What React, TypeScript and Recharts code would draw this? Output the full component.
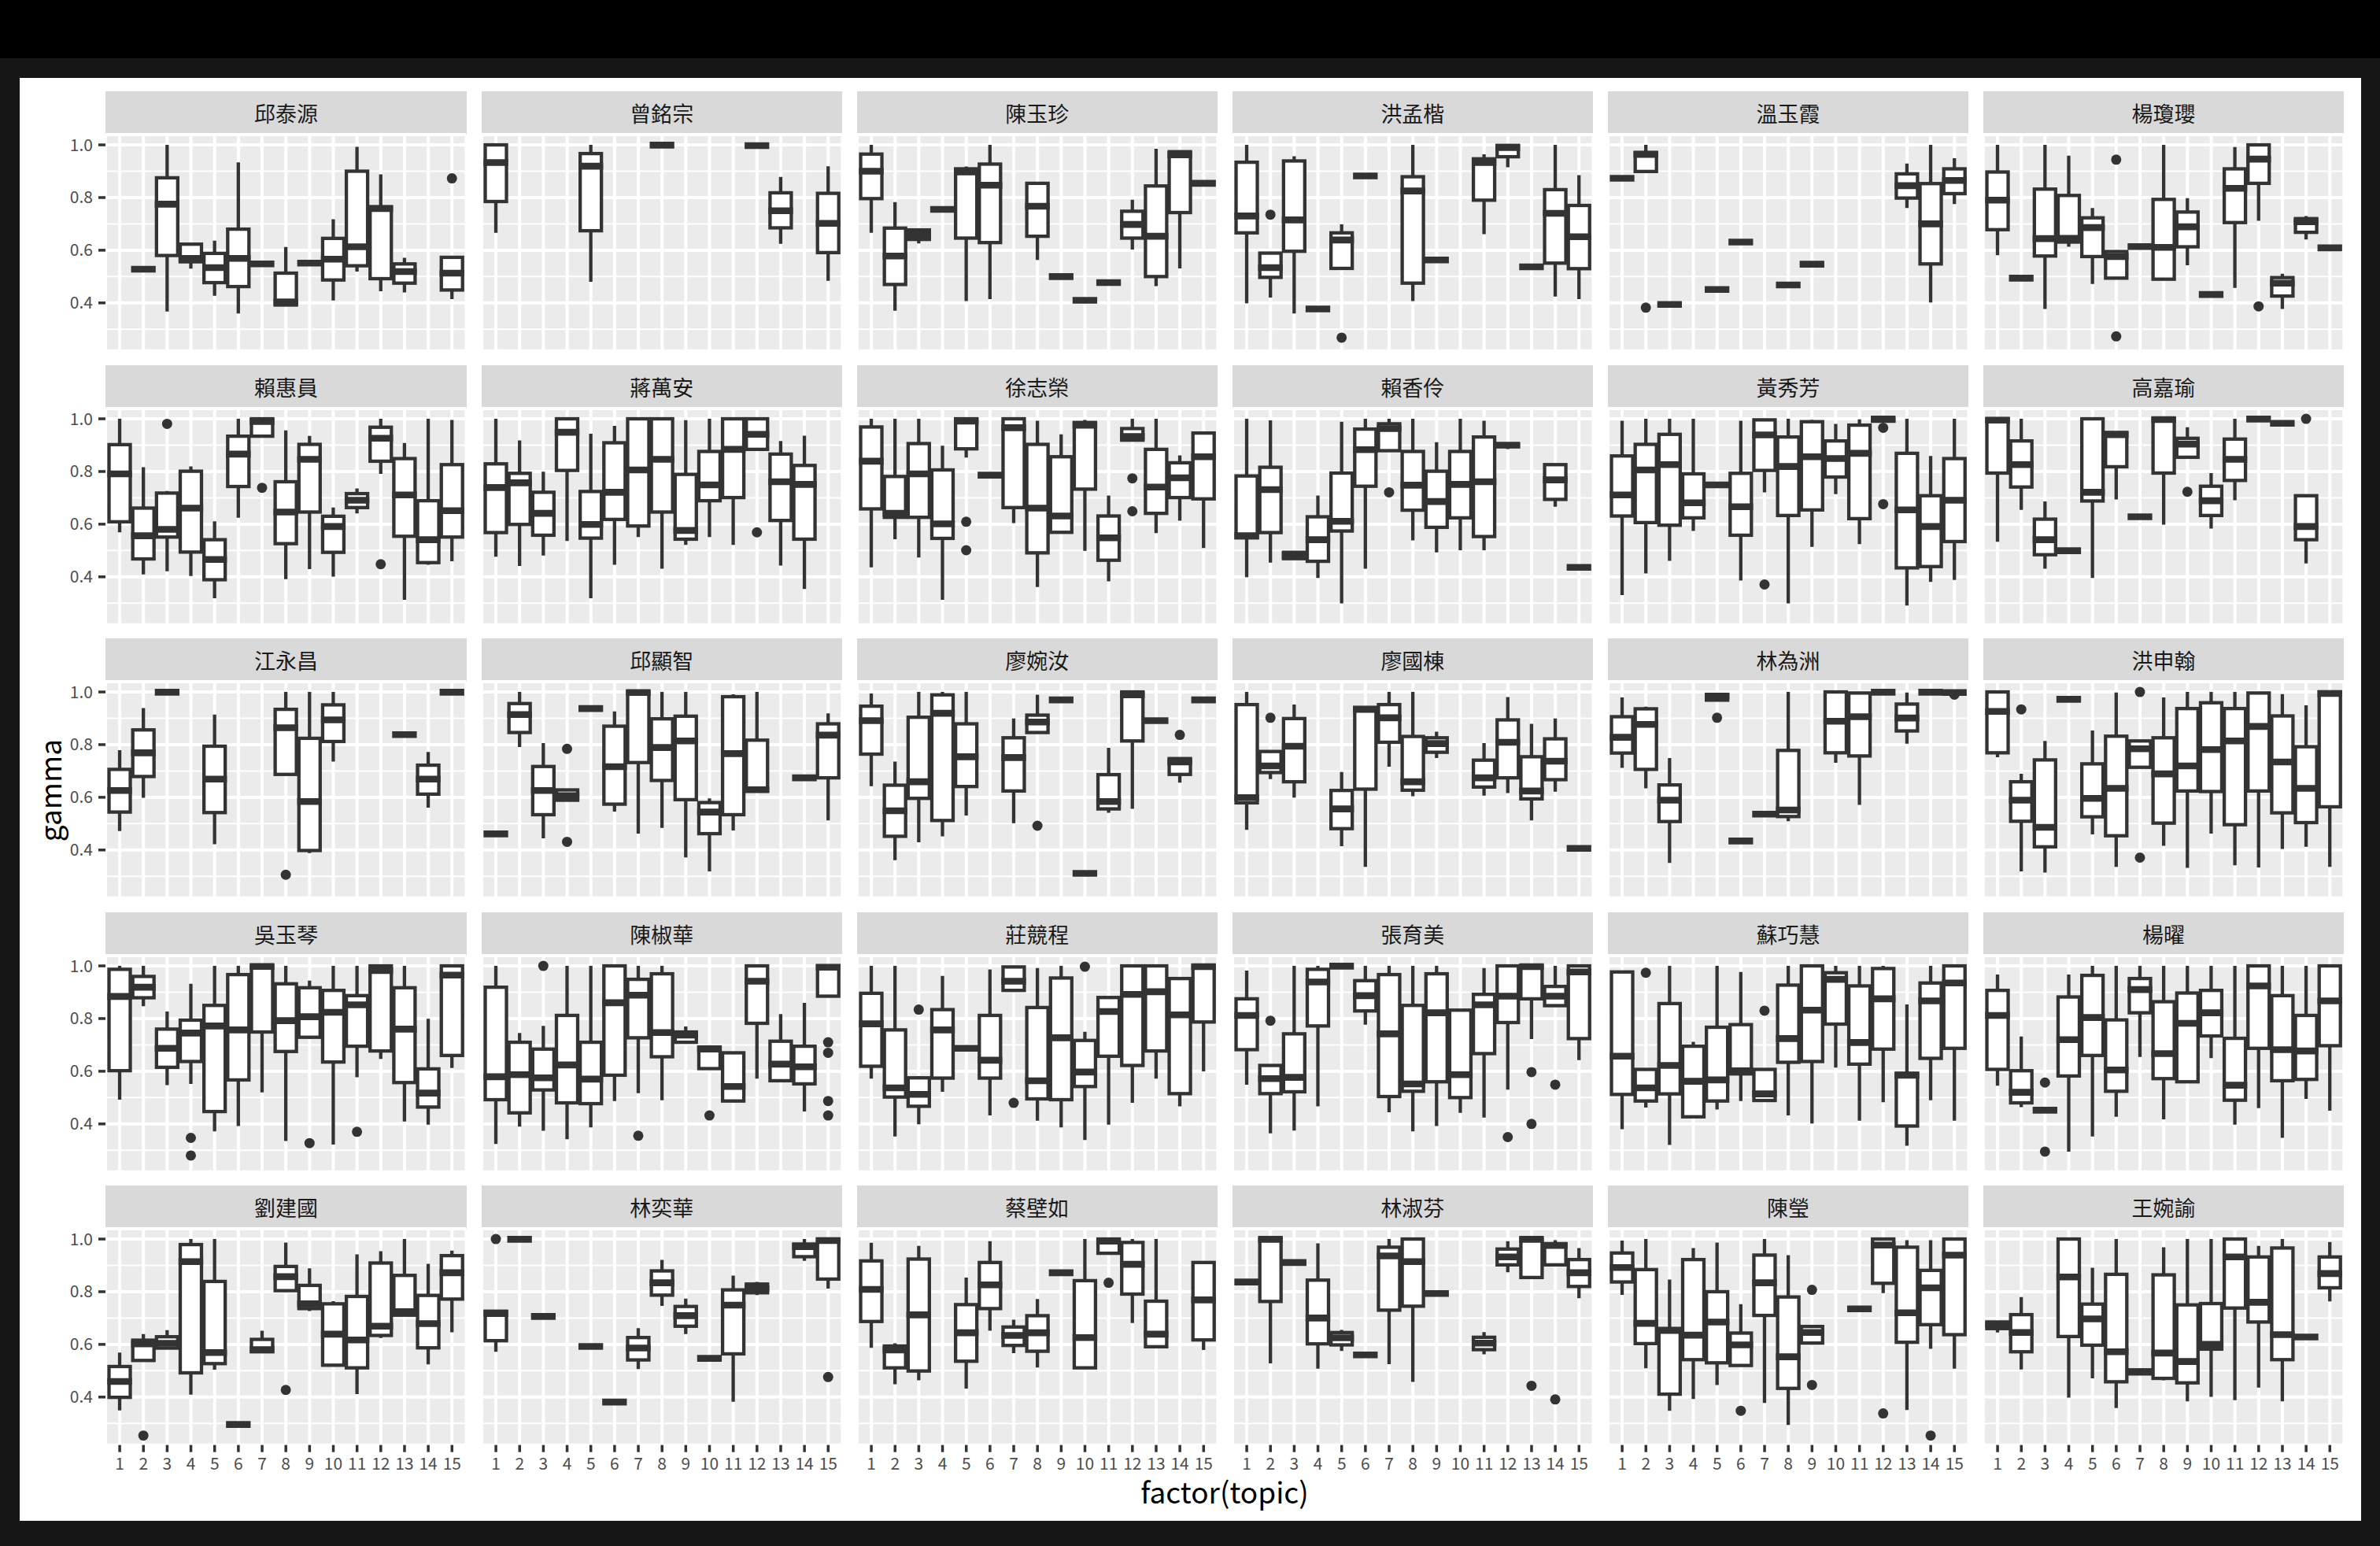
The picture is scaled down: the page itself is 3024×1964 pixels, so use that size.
import React from 'react';
import { ComposedChart, Bar, XAxis, YAxis, CartesianGrid } from 'recharts';

type Box = number[]; // [topic, lower whisker, Q1, median, Q3, upper whisker, ...outliers]

const topics = ['1', '2', '3', '4', '5', '6', '7', '8', '9', '10', '11', '12', '13', '14', '15'];
const yTicks = [0.4, 0.6, 0.8, 1.0];
const yMinorTicks = [0.3, 0.5, 0.7, 0.9];
const yDomain: [number, number] = [0.218, 1.039];

const facetNames = [
  '邱泰源', '曾銘宗', '陳玉珍', '洪孟楷', '溫玉霞', '楊瓊瓔',
  '賴惠員', '蔣萬安', '徐志榮', '賴香伶', '黃秀芳', '高嘉瑜',
  '江永昌', '邱顯智', '廖婉汝', '廖國棟', '林為洲', '洪申翰',
  '吳玉琴', '陳椒華', '莊競程', '張育美', '蘇巧慧', '楊曜',
  '劉建國', '林奕華', '蔡壁如', '林淑芬', '陳瑩', '王婉諭',
];

const f01: Box[] = [
  [2, .528, .528, .528, .528, .528], [3, .367, .58, .775, .875, 1.0], [4, .53, .556, .569, .623, .623],
  [5, .427, .477, .534, .588, .636], [6, .36, .462, .569, .68, .934], [7, .548, .548, .548, .548, .548],
  [8, .389, .392, .404, .513, .612], [9, .551, .551, .551, .551, .551], [10, .409, .487, .566, .645, .718],
  [11, .519, .541, .613, .9, .993], [12, .444, .492, .758, .765, .888], [13, .44, .475, .519, .548, .571],
  [15, .414, .449, .513, .573, .573, .873],
];
const f02: Box[] = [
  [1, .666, .785, .933, 1.0, 1.0], [5, .48, .674, .919, .967, 1.0], [8, .999, .999, .999, .999, .999],
  [12, .997, .997, .997, .997, .997], [13, .624, .685, .75, .818, .878], [15, .484, .591, .702, .816, .919],
];
const f03: Box[] = [
  [1, .666, .796, .9, .965, 1.0], [2, .37, .47, .578, .684, .783], [3, .626, .641, .66, .677, .677],
  [4, .755, .755, .755, .755, .755], [5, .407, .646, .897, .909, .918], [6, .414, .629, .847, .927, 1.0],
  [8, .563, .653, .767, .854, .855], [9, .5, .5, .5, .5, .5], [10, .41, .41, .41, .41, .41],
  [11, .477, .477, .477, .477, .477], [12, .603, .646, .698, .748, .792], [13, .464, .5, .653, .844, .985],
  [14, .531, .743, .962, .974, .976], [15, .854, .854, .854, .854, .854],
];
const f04: Box[] = [
  [1, .399, .666, .73, .934, 1.0], [2, .42, .497, .534, .589, .589, .735], [3, .36, .596, .715, .939, .957],
  [4, .377, .377, .377, .377, .377], [5, .531, .531, .639, .666, .698, .268], [6, .882, .882, .882, .882, .882],
  [8, .407, .475, .825, .879, 1.0], [9, .563, .563, .563, .563, .563], [11, .661, .79, .933, .947, .964],
  [12, .915, .955, .99, .998, .998], [13, .537, .537, .537, .537, .537], [14, .424, .551, .74, .83, 1.0],
  [15, .414, .53, .651, .77, .885],
];
const f05: Box[] = [
  [1, .873, .873, .873, .873, .873], [2, .899, .899, .964, .971, 1.0, .382], [3, .394, .394, .394, .394, .394],
  [5, .451, .451, .451, .451, .451], [6, .631, .631, .631, .631, .631], [8, .468, .468, .468, .468, .468],
  [9, .547, .547, .547, .547, .547], [13, .76, .798, .845, .89, .929], [14, .402, .548, .7, .853, 1.0],
  [15, .775, .815, .865, .909, .949],
];
const f06: Box[] = [
  [1, .581, .678, .79, .897, 1.0], [2, .494, .494, .494, .494, .494], [3, .377, .578, .644, .832, 1.0],
  [4, .613, .631, .645, .808, .959], [5, .472, .576, .686, .723, .76], [6, .494, .494, .576, .595, .595, .944, .273],
  [7, .614, .614, .614, .614, .614], [8, .49, .49, .611, .793, 1.0], [9, .543, .613, .689, .745, .798],
  [10, .432, .432, .432, .432, .432], [11, .457, .705, .835, .909, .992], [12, .712, .854, .946, 1.0, 1.0, .387],
  [13, .377, .426, .475, .496, .511], [14, .641, .668, .708, .72, .73], [15, .609, .609, .609, .609, .609],
];
const f07: Box[] = [
  [1, .569, .609, .791, .902, 1.0], [2, .409, .468, .556, .661, .816], [3, .421, .551, .58, .718, .726, .981],
  [4, .403, .494, .661, .801, .819], [5, .319, .389, .466, .541, .611], [6, .624, .743, .866, .934, 1.0],
  [7, .934, .934, .99, 1.0, 1.0, .738], [8, .391, .526, .646, .761, .956], [9, .429, .646, .846, .903, .935],
  [10, .401, .493, .591, .63, .663], [11, .641, .663, .691, .716, .736], [12, .791, .839, .926, .968, 1.0, .448],
  [13, .313, .554, .711, .849, .908], [14, .446, .454, .541, .689, 1.0], [15, .459, .551, .651, .826, .996],
];
const f08: Box[] = [
  [1, .476, .568, .739, .829, 1.0], [2, .441, .599, .757, .793, .918], [3, .481, .558, .641, .721, .799],
  [4, .536, .804, .949, 1.0, 1.0], [5, .319, .547, .599, .724, .943], [6, .446, .618, .721, .909, .973],
  [7, .551, .593, .806, 1.0, 1.0], [8, .431, .646, .846, 1.0, 1.0], [9, .521, .543, .576, .789, .995],
  [10, .551, .689, .749, .876, 1.0], [11, .521, .701, .884, 1.0, 1.0], [12, .879, .884, .941, 1.0, 1.0, .569],
  [13, .443, .614, .761, .866, .916], [14, .354, .543, .751, .823, .936],
];
const f09: Box[] = [
  [1, .436, .658, .839, .969, 1.0], [2, .543, .626, .641, .781, 1.0], [3, .473, .626, .791, .906, 1.0],
  [4, .313, .546, .601, .806, .898], [5, .853, .886, .991, 1.0, 1.0, .609, .501], [6, .786, .786, .786, .786, .786],
  [7, .604, .663, .966, 1.0, 1.0], [8, .361, .491, .661, .903, .993], [9, .568, .569, .631, .856, .941],
  [10, .499, .733, .976, .986, .996], [11, .383, .463, .548, .631, .709], [12, .919, .919, .933, .963, 1.0, .774, .649],
  [13, .566, .641, .741, .884, 1.0], [14, .613, .701, .776, .833, .861], [15, .509, .696, .856, .946, .951],
];
const f10: Box[] = [
  [1, .399, .548, .556, .783, 1.0], [2, .454, .568, .731, .816, .994], [3, .469, .469, .481, .493, .493],
  [4, .396, .459, .541, .628, .709], [5, .299, .574, .611, .794, .989], [6, .431, .744, .883, .961, 1.0],
  [7, .879, .879, .963, .981, 1.0, .721], [8, .538, .653, .748, .876, 1.0], [9, .493, .588, .686, .801, .911],
  [10, .501, .624, .751, .876, 1.0], [11, .501, .553, .761, .931, .993], [12, .885, .895, .9, .903, .903],
  [14, .666, .694, .768, .826, .828], [15, .436, .436, .436, .436, .436],
];
const f11: Box[] = [
  [1, .331, .631, .711, .859, .993], [2, .413, .606, .806, .903, 1.0], [3, .461, .596, .826, .941, 1.0],
  [4, .574, .624, .681, .791, 1.0], [5, .749, .749, .749, .749, .749], [6, .386, .558, .666, .793, .993],
  [7, .721, .804, .939, .996, 1.0, .371], [8, .299, .633, .819, .931, 1.0], [9, .514, .654, .856, .989, .996],
  [10, .714, .779, .849, .916, .981], [11, .524, .621, .869, .976, .998], [12, .991, .991, .999, 1.0, 1.0, .966, .676],
  [13, .291, .434, .654, .869, 1.0], [14, .381, .439, .591, .708, .859], [15, .388, .534, .691, .849, 1.0],
];
const f12: Box[] = [
  [1, .533, .794, .995, 1.0, 1.0], [2, .654, .741, .826, .916, 1.0], [3, .431, .484, .541, .619, .686],
  [4, .499, .499, .499, .499, .499], [5, .396, .688, .721, 1.0, 1.0], [6, .694, .818, .94, .948, .948],
  [7, .628, .628, .628, .628, .628], [8, .598, .794, .997, 1.0, 1.0], [9, .854, .854, .904, .926, .968, .723],
  [10, .583, .633, .689, .744, .794], [11, .691, .766, .846, .923, 1.0], [12, .999, .999, .999, .999, .999],
  [13, .983, .983, .983, .983, .983], [14, .451, .541, .591, .708, .708, 1.0],
];
const f13: Box[] = [
  [1, .472, .544, .626, .706, .779], [2, .598, .679, .769, .856, .939], [3, .999, .999, .999, .999, .999],
  [5, .422, .542, .669, .794, .914], [8, .687, .687, .864, .934, 1.0, .306], [9, .388, .398, .584, .824, 1.0],
  [10, .736, .812, .894, .951, 1.0], [13, .838, .838, .838, .838, .838], [14, .561, .612, .669, .722, .772],
  [15, .999, .999, .999, .999, .999],
];
const f14: Box[] = [
  [1, .461, .461, .461, .461, .461], [2, .791, .846, .914, .956, 1.0], [3, .444, .534, .626, .717, .806],
  [4, .589, .589, .606, .628, .628, .784, .431], [5, .937, .937, .937, .937, .937], [6, .546, .574, .716, .87, .926],
  [7, .462, .732, .998, 1.0, 1.0], [8, .484, .664, .789, .898, 1.0], [9, .372, .591, .814, .908, 1.0],
  [10, .319, .462, .544, .58, .596], [11, .474, .534, .766, .982, .991], [12, .622, .624, .629, .817, 1.0],
  [14, .674, .674, .674, .674, .674], [15, .512, .674, .836, .879, .919],
];
const f15: Box[] = [
  [1, .642, .764, .891, .946, .994], [2, .361, .452, .549, .646, .736], [3, .429, .596, .659, .904, 1.0],
  [4, .452, .512, .919, .989, 1.0], [5, .531, .641, .754, .879, 1.0], [7, .502, .624, .751, .826, .899],
  [8, .846, .846, .886, .912, .99, .492], [9, .97, .97, .97, .97, .97], [10, .311, .311, .311, .311, .311],
  [11, .541, .556, .584, .686, .788], [12, .556, .814, .989, 1.0, 1.0], [13, .891, .891, .891, .891, .891],
  [14, .656, .687, .734, .747, .747, .837], [15, .97, .97, .97, .97, .97],
];
const f16: Box[] = [
  [1, .476, .579, .599, .952, 1.0], [2, .669, .694, .719, .774, .774, .902], [3, .599, .659, .794, .899, .952],
  [5, .414, .481, .556, .626, .696], [6, .336, .631, .934, .941, .946], [7, .716, .809, .902, .952, 1.0],
  [8, .604, .627, .659, .831, 1.0], [9, .749, .771, .804, .826, .849], [11, .606, .639, .674, .741, .806],
  [12, .616, .674, .809, .894, .981], [13, .512, .594, .624, .754, .879], [14, .621, .667, .737, .822, .899],
  [15, .406, .406, .406, .406, .406],
];
const f17: Box[] = [
  [1, .712, .768, .828, .906, .979], [2, .634, .706, .877, .936, .944], [3, .351, .508, .589, .647, .749],
  [5, .969, .969, .984, .99, .99, .902], [6, .434, .434, .434, .434, .434], [7, .536, .536, .536, .536, .536],
  [8, .509, .527, .552, .778, 1.0], [10, .731, .769, .889, 1.0, 1.0], [11, .571, .757, .906, .996, .998],
  [12, .999, .999, .999, .999, .999], [13, .804, .852, .901, .954, .998], [14, .999, .999, .999, .999, .999],
  [15, .998, .998, .998, .998, .998, .99],
];
const f18: Box[] = [
  [1, .752, .769, .926, 1.0, 1.0], [2, .319, .509, .589, .659, .689, .934], [3, .314, .412, .486, .742, .814],
  [4, .972, .972, .972, .972, .972], [5, .459, .526, .596, .727, .854], [6, .336, .454, .634, .832, .998],
  [7, .714, .714, .784, .814, .814, 1.0, .371], [8, .416, .502, .689, .826, .979], [9, .332, .624, .719, .937, 1.0],
  [10, .462, .622, .781, .959, 1.0], [11, .342, .496, .814, .937, 1.0], [12, .334, .624, .869, .996, 1.0],
  [13, .404, .541, .734, .909, .992], [14, .412, .504, .634, .792, .949], [15, .336, .564, .994, 1.0, 1.0],
];
const f19: Box[] = [
  [1, .492, .602, .884, .987, 1.0], [2, .847, .879, .919, .96, 1.0], [3, .547, .615, .687, .76, .827],
  [4, .552, .637, .745, .794, .932, .347, .28], [5, .372, .447, .772, .85, 1.0], [6, .392, .567, .757, .967, 1.0],
  [7, .52, .749, .998, 1.0, 1.0], [8, .335, .675, .792, .932, 1.0], [9, .724, .729, .807, .917, .944, .327],
  [10, .322, .635, .824, .907, 1.0], [11, .577, .695, .852, .887, 1.0, .37], [12, .647, .677, .982, 1.0, 1.0],
  [13, .409, .557, .76, .917, 1.0], [14, .397, .464, .517, .609, .799], [15, .612, .66, .965, 1.0, 1.0],
];
const f20: Box[] = [
  [1, .324, .492, .579, .919, 1.0], [2, .39, .442, .587, .71, .745], [3, .374, .529, .575, .684, .772, 1.0],
  [4, .342, .48, .624, .812, 1.0], [5, .387, .477, .57, .71, 1.0], [6, .487, .585, .86, 1.0, 1.0],
  [7, .517, .727, .889, .949, 1.0, .355], [8, .49, .655, .747, .97, 1.0], [9, .71, .71, .737, .749, .77],
  [10, .61, .61, .684, .692, .692, .432], [11, .482, .487, .542, .67, .67], [12, .572, .782, .942, 1.0, 1.0],
  [13, .564, .564, .627, .714, .817], [14, .447, .552, .617, .695, .86], [15, .885, .885, .995, 1.0, 1.0, .71, .67, .487, .432],
];
const f21: Box[] = [
  [1, .572, .619, .78, .896, 1.0], [2, .352, .502, .537, .757, 1.0], [3, .399, .467, .512, .575, .582, .834],
  [4, .522, .574, .757, .834, .962], [5, .687, .687, .687, .687, .687], [6, .432, .574, .642, .812, .987],
  [7, .907, .907, .942, .996, .996, .48], [8, .412, .495, .564, .842, .992], [9, .387, .492, .727, .954, 1.0],
  [10, .339, .542, .597, .717, .75, .997], [11, .397, .657, .827, .88, .88], [12, .48, .622, .892, 1.0, 1.0],
  [13, .572, .677, .902, 1.0, 1.0], [14, .467, .515, .814, .952, .957], [15, .6, .787, .997, 1.0, 1.0],
];
const f22: Box[] = [
  [1, .549, .682, .812, .875, .982], [2, .364, .515, .572, .622, .622, .792], [3, .375, .522, .577, .742, 1.0],
  [4, .467, .772, .939, .987, 1.0], [5, .999, .999, .999, .999, .999], [6, .777, .829, .887, .944, 1.0],
  [7, .444, .504, .742, .967, 1.0], [8, .372, .524, .552, .85, 1.0], [9, .392, .56, .822, .97, 1.0],
  [10, .442, .5, .587, .832, .832], [11, .424, .667, .852, .892, .992], [12, .53, .785, .885, 1.0, 1.0, .35],
  [13, .722, .875, .997, 1.0, 1.0, .597, .4], [14, .849, .849, .885, .922, 1.0, .549], [15, .642, .724, .977, 1.0, 1.0],
];
const f23: Box[] = [
  [1, .38, .512, .657, .977, .982], [2, .462, .487, .537, .607, .607, .974], [3, .32, .514, .622, .857, 1.0],
  [4, .427, .427, .562, .695, .712], [5, .455, .487, .567, .767, 1.0], [6, .487, .59, .602, .777, .977],
  [7, .489, .489, .514, .607, .607, .83], [8, .432, .634, .724, .927, 1.0], [9, .402, .637, .832, 1.0, 1.0],
  [10, .614, .779, .949, .974, 1.0], [11, .412, .627, .709, .924, 1.0], [12, .482, .684, .875, .99, 1.0],
  [13, .317, .392, .585, .592, .854], [14, .49, .649, .867, .935, 1.0], [15, .412, .687, .935, 1.0, 1.0],
];
const f24: Box[] = [
  [1, .545, .607, .812, .907, .967], [2, .464, .48, .52, .602, .732], [3, .452, .452, .452, .452, .452, .557, .295],
  [4, .295, .582, .72, .882, .967], [5, .352, .66, .804, .964, 1.0], [6, .427, .524, .605, .795, 1.0],
  [7, .654, .822, .91, .952, 1.0], [8, .417, .572, .667, .864, 1.0], [9, .557, .56, .782, .897, 1.0],
  [10, .65, .734, .822, .907, 1.0], [11, .397, .49, .547, .725, 1.0], [12, .46, .687, .924, 1.0, 1.0],
  [13, .347, .564, .682, .887, 1.0], [14, .495, .569, .677, .812, 1.0], [15, .45, .697, .867, 1.0, 1.0],
];
const f25: Box[] = [
  [1, .349, .399, .459, .516, .569], [2, .539, .539, .602, .616, .639, .254], [3, .584, .586, .604, .629, .654],
  [4, .409, .492, .914, .979, 1.0], [5, .504, .527, .569, .839, 1.0], [6, .296, .296, .296, .296, .296],
  [7, .572, .572, .58, .619, .652], [8, .804, .804, .857, .896, .987, .427], [9, .727, .736, .754, .824, .889],
  [10, .519, .521, .639, .754, .764], [11, .411, .511, .617, .782, .942], [12, .624, .634, .669, .909, .954],
  [13, .711, .711, .724, .862, 1.0], [14, .524, .587, .679, .786, .906], [15, .646, .772, .872, .937, .956],
];
const f26: Box[] = [
  [1, .572, .614, .717, .726, .726, 1.0], [2, .999, .999, .999, .999, .999], [3, .706, .706, .706, .706, .706],
  [5, .592, .592, .592, .592, .592], [6, .381, .381, .381, .381, .381], [7, .506, .541, .586, .626, .662],
  [8, .746, .787, .834, .879, .921], [9, .639, .669, .709, .744, .774], [10, .547, .547, .547, .547, .547],
  [11, .382, .564, .749, .807, .861], [12, .787, .796, .812, .829, .837], [14, .917, .933, .971, .981, 1.0],
  [15, .812, .848, .994, 1.0, 1.0, .476],
];
const f27: Box[] = [
  [1, .587, .687, .809, .917, .986], [2, .449, .511, .579, .594, .604], [3, .464, .499, .712, .924, .974],
  [5, .432, .536, .644, .751, .854], [6, .652, .736, .826, .911, .992], [7, .567, .596, .634, .666, .694],
  [8, .512, .574, .644, .709, .772], [9, .872, .872, .872, .872, .872], [10, .506, .511, .626, .842, 1.0],
  [11, .946, .946, .992, 1.0, 1.0, .834], [12, .681, .791, .904, .987, 1.0], [13, .591, .591, .639, .764, 1.0],
  [15, .579, .617, .769, .911, .912],
];
const f28: Box[] = [
  [1, .837, .837, .837, .837, .837], [2, .528, .763, .999, 1.0, 1.0], [3, .911, .911, .911, .911, .911],
  [4, .508, .602, .7, .844, .984], [5, .575, .598, .625, .645, .655], [6, .56, .56, .56, .56, .56],
  [7, .525, .73, .936, .969, 1.0], [8, .458, .745, .914, 1.0, 1.0], [9, .793, .793, .793, .793, .793],
  [11, .562, .58, .605, .627, .647], [12, .874, .902, .932, .962, .992], [13, .854, .854, .999, 1.0, 1.0, .443],
  [14, .902, .902, .976, .981, .996, .391], [15, .775, .82, .872, .922, .966],
];
const f29: Box[] = [
  [1, .788, .837, .892, .947, .994], [2, .509, .603, .68, .884, 1.0], [3, .348, .411, .653, .66, .846],
  [4, .393, .542, .635, .922, .966], [5, .446, .53, .685, .8, .987], [6, .52, .52, .598, .643, .753, .348],
  [7, .378, .71, .834, .939, 1.0], [8, .294, .433, .553, .78, .939], [9, .605, .605, .645, .668, .668, .807, .446],
  [11, .735, .735, .735, .735, .735], [12, .795, .832, .977, 1.0, 1.0, .338], [13, .351, .608, .72, .969, .996],
  [14, .583, .675, .815, .881, .996, .254], [15, .508, .637, .939, 1.0, 1.0],
];
const f30: Box[] = [
  [1, .645, .66, .675, .685, .685], [2, .505, .572, .645, .713, .78], [4, .398, .63, .856, 1.0, 1.0],
  [5, .471, .597, .697, .753, .891], [6, .358, .458, .572, .866, 1.0], [7, .488, .488, .496, .503, .503],
  [8, .464, .471, .567, .864, .969], [9, .384, .454, .535, .75, 1.0], [10, .401, .582, .6, .755, 1.0],
  [11, .388, .738, .932, 1.0, 1.0], [12, .436, .685, .76, .932, .974], [13, .384, .542, .637, .966, 1.0],
  [14, .628, .628, .628, .628, .628], [15, .763, .815, .869, .932, .989],
];

const facetBoxes: Box[][] = [
  f01, f02, f03, f04, f05, f06, f07, f08, f09, f10, f11, f12, f13, f14, f15,
  f16, f17, f18, f19, f20, f21, f22, f23, f24, f25, f26, f27, f28, f29, f30,
];

// ---------- layout / style ----------
const FONT = '"Noto Sans CJK TC", "Noto Sans", sans-serif';
const DARK = '#333333';
const PANEL_W = 458.4;
const PANEL_H = 274.7;
const STRIP_H = 55;
const COL0 = 134.4;
const COL_STEP = 477.1;
const ROW0 = 116;
const ROW_STEP = 347.6;
const Y_AXIS_W = 100;
const X_AXIS_H = 60;
const TOP_PAD = 20;
const BOX_LW = 4.3;
const TICK_FS = 21;

const shownTick = { fontSize: TICK_FS, fill: '#4D4D4D', fontFamily: FONT };
const HiddenTick = () => <g />;
const shownTickLine = { stroke: DARK, strokeWidth: 3.5 };
const hiddenTickLine = { stroke: 'none' };

const buildRows = (boxes: Box[]) =>
  topics.map((t, i) => {
    const b = boxes.find((bb) => bb[0] === i + 1);
    if (!b) return { topic: t, range: null, box: null };
    const vals = b.slice(1);
    return { topic: t, range: [Math.min(...vals), Math.max(...vals)], box: vals };
  });

function BoxShape(props: any) {
  const { x, y, width, height, payload } = props;
  const box: number[] | null = payload ? payload.box : null;
  if (!box || !Number.isFinite(x) || !Number.isFinite(y)) return null;
  const [lo, q1, med, q3, hi, ...outs] = box;
  const [mn, mx] = payload.range as number[];
  const h = Number.isFinite(height) ? height : 0;
  const top = Math.min(y, y + h);
  const bot = Math.max(y, y + h);
  const py = (v: number) => (mx === mn ? top : bot - ((v - mn) / (mx - mn)) * (bot - top));
  const cx = x + width / 2;
  return (
    <g>
      <line x1={cx} x2={cx} y1={py(hi)} y2={py(q3)} stroke={DARK} strokeWidth={BOX_LW} />
      <line x1={cx} x2={cx} y1={py(q1)} y2={py(lo)} stroke={DARK} strokeWidth={BOX_LW} />
      <rect x={x} y={py(q3)} width={width} height={Math.max(0, py(q1) - py(q3))} fill="#FFFFFF" stroke={DARK} strokeWidth={BOX_LW} />
      <line x1={x - BOX_LW / 2} x2={x + width + BOX_LW / 2} y1={py(med)} y2={py(med)} stroke={DARK} strokeWidth={BOX_LW * 2} />
      {outs.map((o, k) => (
        <circle key={k} cx={cx} cy={py(o)} r={6.5} fill={DARK} />
      ))}
    </g>
  );
}

function Facet({ idx }: { idx: number }) {
  const col = idx % 6;
  const row = Math.floor(idx / 6);
  const left = COL0 + col * COL_STEP;
  const stripTop = ROW0 + row * ROW_STEP;
  const panelTop = stripTop + STRIP_H;
  const data = buildRows(facetBoxes[idx]);
  const showY = col === 0;
  const showX = row === 4;
  return (
    <>
      <div
        style={{
          position: 'absolute', left, top: stripTop, width: PANEL_W, height: STRIP_H,
          background: '#D9D9D9', color: '#1A1A1A', fontSize: 27, lineHeight: `${STRIP_H}px`,
          textAlign: 'center', fontFamily: FONT,
        }}
      >
        {facetNames[idx]}
      </div>
      <div style={{ position: 'absolute', left: left - Y_AXIS_W, top: panelTop - TOP_PAD }}>
        <ComposedChart
          width={PANEL_W + Y_AXIS_W}
          height={PANEL_H + X_AXIS_H + TOP_PAD}
          data={data}
          margin={{ top: TOP_PAD, right: 0, bottom: 0, left: 0 }}
          barCategoryGap="5%"
        >
          <CartesianGrid
            fill="#EBEBEB"
            fillOpacity={1}
            vertical={false}
            horizontalValues={yMinorTicks}
            stroke="#FFFFFF"
            strokeWidth={2}
          />
          <CartesianGrid stroke="#FFFFFF" strokeWidth={4} />
          <XAxis
            dataKey="topic"
            type="category"
            interval={0}
            padding={{ left: PANEL_W / 152, right: PANEL_W / 152 }}
            height={X_AXIS_H}
            axisLine={false}
            tick={showX ? shownTick : HiddenTick}
            tickLine={showX ? shownTickLine : hiddenTickLine}
            tickSize={9}
            tickMargin={7}
          />
          <YAxis
            type="number"
            domain={yDomain}
            allowDataOverflow
            ticks={yTicks}
            interval={0}
            tickFormatter={(v: number) => v.toFixed(1)}
            width={Y_AXIS_W}
            axisLine={false}
            tick={showY ? shownTick : HiddenTick}
            tickLine={showY ? shownTickLine : hiddenTickLine}
            tickSize={9}
            tickMargin={7}
          />
          <Bar dataKey="range" isAnimationActive={false} shape={(p: any) => <BoxShape {...p} />} />
        </ComposedChart>
      </div>
    </>
  );
}

export default function App() {
  return (
    <div
      style={{
        position: 'absolute', left: 0, top: 0, width: 3024, height: 1964,
        background: '#161616', overflow: 'hidden', fontFamily: FONT,
      }}
    >
      <div style={{ position: 'absolute', left: 0, top: 0, width: 3024, height: 74, background: '#000000' }} />
      <div style={{ position: 'absolute', left: 25, top: 99, width: 2975, height: 1833, background: '#FFFFFF' }} />
      {facetNames.map((_, i) => (
        <Facet key={i} idx={i} />
      ))}
      <div
        style={{
          position: 'absolute', left: 62 - 150, top: 1003.5 - 25, width: 300, height: 50,
          lineHeight: '50px', textAlign: 'center', fontSize: 37, color: '#000000',
          transform: 'rotate(-90deg)', fontFamily: FONT,
        }}
      >
        gamma
      </div>
      <div
        style={{
          position: 'absolute', left: 1556 - 200, top: 1872, width: 400, height: 44,
          lineHeight: '44px', textAlign: 'center', fontSize: 37, color: '#000000', fontFamily: FONT,
        }}
      >
        factor(topic)
      </div>
    </div>
  );
}
